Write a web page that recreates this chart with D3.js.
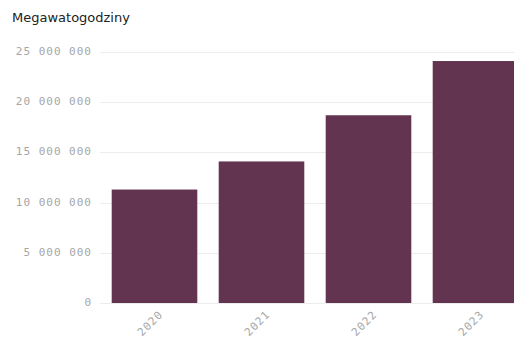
<!DOCTYPE html>
<html>
<head>
<meta charset="utf-8">
<script src="https://cdn.jsdelivr.net/npm/d3@7"></script>
<style>
  body { margin: 0; background: #fff; }
  svg { display: block; }
</style>
</head>
<body>
<div id="chart"></div>
<script>
var years = ["2020", "2021", "2022", "2023"]
var values = [11300000, 14100000, 18700000, 24100000]
var yTicks = [0, 5000000, 10000000, 15000000, 20000000, 25000000]
var title = "Megawatogodziny"

var width = 514, height = 342
var svg = d3.select('#chart').append('svg')
  .attr('width', width)
  .attr('height', height)

var x = d3.scaleBand()
  .domain(years)
  .range([101, 529])
  .paddingInner(0.2)
  .paddingOuter(0.1)

var y = d3.scaleLinear()
  .domain([0, 25000000])
  .range([303, 52])

var fmt = d => d3.format(',')(d).replace(/,/g, ' ')

// gridlines
svg.append('g').selectAll('line')
  .data(yTicks)
  .join('line')
  .attr('x1', 100)
  .attr('x2', width)
  .attr('y1', d => Math.round(y(d)) + 0.5)
  .attr('y2', d => Math.round(y(d)) + 0.5)
  .attr('stroke', '#ececec')

// y tick labels
svg.append('g').selectAll('text')
  .data(yTicks)
  .join('text')
  .attr('x', 92)
  .attr('y', d => y(d))
  .attr('dominant-baseline', 'middle')
  .attr('text-anchor', 'end')
  .attr('font-family', 'DejaVu Sans Mono')
  .attr('font-size', '11px')
  .attr('letter-spacing', '1px')
  .attr('fill', '#a6a6a6')
  .text(fmt)

// bars
svg.append('g').selectAll('rect')
  .data(years)
  .join('rect')
  .attr('x', d => x(d))
  .attr('width', x.bandwidth())
  .attr('y', (d, i) => y(values[i]))
  .attr('height', (d, i) => y(0) - y(values[i]))
  .attr('fill', '#633450')

// x labels
svg.append('g').selectAll('text')
  .data(years)
  .join('text')
  .attr('transform', d => 'translate(' + (x(d) + x.bandwidth() / 2 + 7) + ',313) rotate(-45)')
  .attr('text-anchor', 'end')
  .attr('dominant-baseline', 'middle')
  .attr('font-family', 'DejaVu Sans Mono')
  .attr('font-size', '11px')
  .attr('letter-spacing', '1px')
  .attr('fill', '#a6a6a6')
  .text(d => d)

svg.append('text')
  .attr('x', 12)
  .attr('y', 22)
  .attr('font-family', 'DejaVu Sans')
  .attr('font-size', '13px')
  .attr('fill', '#222')
  .text(title)
</script>
</body>
</html>
